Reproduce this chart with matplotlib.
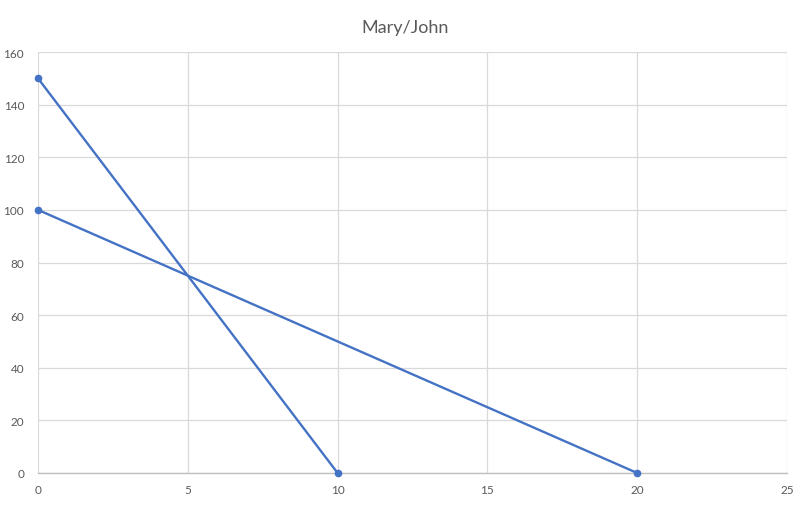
import matplotlib
matplotlib.use("Agg")
import matplotlib.pyplot as plt

plt.rcParams['font.family'] = ['Lato', 'DejaVu Sans']

# two lines, each from y-intercept to x-intercept
mary_x = [0, 10]
mary_y = [150, 0]
john_x = [0, 20]
john_y = [100, 0]

x_ticks = [0, 5, 10, 15, 20, 25]
y_ticks = [0, 20, 40, 60, 80, 100, 120, 140, 160]

blue = "#4472C4"
grid = "#D9D9D9"
text = "#595959"

fig = plt.figure(figsize=(8.1, 5.1), dpi=100)
ax = fig.add_axes([38/810, 36/510, 749/810, 421/510])

ax.plot(mary_x, mary_y, color=blue, lw=1.7, marker="o", ms=4.5, zorder=3, clip_on=False)
ax.plot(john_x, john_y, color=blue, lw=1.7, marker="o", ms=4.5, zorder=3, clip_on=False)

ax.set_xlim(0, 25)
ax.set_ylim(0, 160)
ax.set_xticks(x_ticks)
ax.set_yticks(y_ticks)
ax.grid(True, color=grid, lw=0.9)
ax.set_axisbelow(True)

for s in ["top", "right", "left"]:
    ax.spines[s].set_visible(False)
ax.spines["bottom"].set_color("#BFBFBF")
ax.spines["bottom"].set_linewidth(1)
ax.spines["bottom"].set_zorder(2)

ax.tick_params(length=0, labelsize=8.5, colors=text, pad=8)
ax.tick_params(axis="y", pad=10)

fig.suptitle("Mary/John", y=1 - 28/510, va="center", fontsize=13, color=text)

fig.savefig("out.png", dpi=100)
